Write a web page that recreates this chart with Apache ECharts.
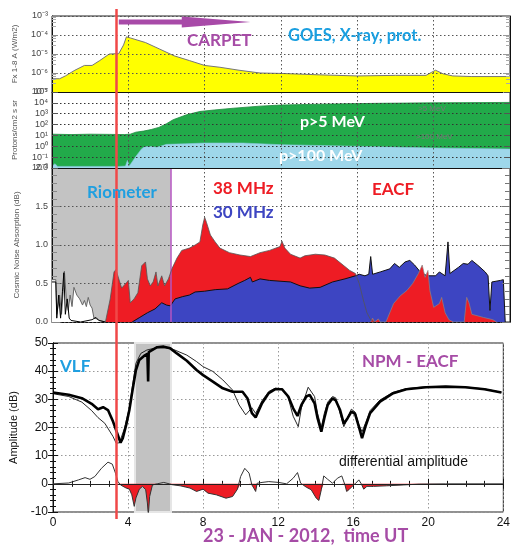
<!DOCTYPE html>
<html><head><meta charset="utf-8">
<script src="https://cdn.jsdelivr.net/npm/echarts@6/dist/echarts.min.js"></script>
<style>html,body{margin:0;padding:0;background:#fff}#c{width:513px;height:545px}</style>
</head><body><div id="c"></div>
<script>
// ---------------- DATA (time in hours UT, 23 Jan 2012) ----------------
const hourTicks = [0, 4, 8, 12, 16, 20, 24];
// GOES X-ray flux 1-8 A (W/m2)
const xrayFlux = [[0,5e-7],[0.4,5e-7],[0.7,7e-7],[1.2,1.4e-6],[1.7,2.5e-6],[2.1,2.5e-6],[2.5,4.5e-6],[3.0,1e-5],[3.5,1.05e-5],[3.6,1.1e-5],[3.75,3e-5],[3.9,8e-5],[4.1,7e-5],[4.9,4e-5],[5.65,1.8e-5],[6.4,8e-6],[7.2,4.5e-6],[8.0,2.5e-6],[8.8,2e-6],[9.8,1.4e-6],[10.9,1e-6],[12,9.5e-7],[14,8e-7],[16,7e-7],[18,7.5e-7],[19.6,7.5e-7],[19.9,1.1e-6],[20.1,1.4e-6],[20.5,9e-7],[21,7e-7],[22,6.5e-7],[24,6.5e-7]];
// GOES protons (/cm2 s sr)
const protonGt5 = [[0,13],[1,12],[2,13],[3,12.5],[3.8,12],[4.1,13],[4.4,20],[4.8,25],[5.2,35],[5.6,55],[6.0,120],[6.35,280],[7.05,800],[7.75,1600],[8.5,2200],[9.5,3200],[10.9,5000],[12,6300],[14,7500],[17,9000],[20,10000],[24,11000]];
const protonGt100 = [[0,0.014],[0.15,0.025],[0.3,0.014],[2,0.014],[3.5,0.014],[3.85,0.015],[3.95,0.05],[4.05,0.015],[4.15,0.015],[4.4,0.12],[4.7,0.6],[4.85,0.9],[5.2,0.95],[5.5,0.8],[6.0,1.5],[6.5,1.6],[7,1.7],[8,2.0],[10,2.0],[12,1.4],[16,1.0],[20,0.7],[24,0.55]];
// Riometer cosmic noise absorption (dB)
const rioQuietFill = [[0,0.55],[0.2,0.55],[0.25,0.1],[0.4,0.35],[0.5,0.1],[0.6,0.45],[0.65,0.66],[0.75,0.3],[0.85,0.15],[0.95,0.35],[1.05,0.2],[1.15,0.45],[1.3,0.35],[1.45,0.3],[1.6,0.22],[1.7,0.28],[1.8,0.2],[1.9,0.32],[2.0,0.22],[2.1,0.18],[2.2,0.05],[2.35,0.04],[2.5,0.02],[2.8,0]];
const rioQuietLine = [[0,0.52],[0.2,0.52],[0.25,0.05],[0.35,0.35],[0.45,0.05],[0.55,0.4],[0.62,0.64],[0.7,0.1],[0.8,0.3],[0.9,0.05],[1.0,0.02],[1.5,0.0],[2.1,0.03],[2.3,0.06],[2.45,0.02],[2.8,0]];
const rio38 = [[2.8,0],[2.9,0],[3.05,0.3],[3.25,0.65],[3.35,0.68],[3.5,0.56],[3.65,0.44],[3.9,0.51],[4.0,0.54],[4.1,0.25],[4.3,0.3],[4.5,0.38],[4.7,0.73],[4.9,0.78],[5.0,0.56],[5.15,0.47],[5.3,0.52],[5.45,0.65],[5.55,0.47],[5.75,0.6],[5.9,0.47],[6.1,0.56],[6.3,0.70],[6.55,0.83],[6.8,0.93],[7.2,0.96],[7.5,1.0],[7.75,1.04],[7.9,1.26],[8.0,1.36],[8.1,1.29],[8.3,1.13],[8.55,1.04],[8.8,0.96],[9.3,0.9],[9.85,0.87],[10.4,0.85],[10.9,0.9],[11.4,0.93],[11.95,0.98],[12.05,1.05],[12.2,0.96],[12.5,0.88],[13,0.83],[13.25,0.86],[13.8,0.88],[14.3,0.87],[14.8,0.83],[15.25,0.74],[15.6,0.67],[15.9,0.63],[16.1,0.5],[16.3,0.3],[16.5,0.12],[16.7,0.03],[16.9,0.0]];
const rio38Late = [[16.7,0],[16.8,0.05],[16.9,0],[17.1,0.04],[17.2,0],[17.5,0],[17.6,0.02],[17.9,0.24],[18.25,0.34],[18.6,0.41],[18.9,0.5],[19.2,0.63],[19.4,0.74],[19.55,0.58],[19.7,0.67],[19.8,0.41],[20.0,0.19],[20.3,0.24],[20.42,0.32],[20.6,0.12],[20.8,0.03],[21.03,0],[21.6,0],[21.73,0.32],[21.85,0.25],[22.0,0.1],[22.6,0.06],[23.1,0.03],[23.3,0]];
const rio30 = [[4.2,0],[4.25,0.01],[4.6,0.06],[5.0,0.12],[5.4,0.17],[5.75,0.25],[6.0,0.22],[6.2,0.21],[6.45,0.3],[6.85,0.33],[7.2,0.35],[7.5,0.39],[8,0.4],[8.55,0.42],[9.2,0.43],[9.75,0.5],[10.1,0.54],[10.4,0.58],[10.5,0.52],[10.9,0.56],[11.4,0.54],[11.95,0.53],[12.5,0.52],[13,0.47],[13.5,0.44],[14.05,0.45],[14.7,0.52],[15.35,0.56],[15.9,0.6],[16.1,0.62],[16.4,0.6],[16.6,0.62],[16.7,0.85],[16.8,0.62],[17.2,0.65],[17.7,0.69],[17.95,0.76],[18.2,0.71],[18.5,0.78],[18.75,0.8],[19,0.74],[19.3,0.65],[19.65,0.6],[20.1,0.6],[20.3,0.65],[20.6,0.6],[20.75,1.04],[20.85,0.63],[21.3,0.71],[21.55,0.76],[21.8,0.75],[22,0.8],[22.3,0.74],[22.7,0.65],[22.85,0.6],[22.95,0.15],[23.05,0.52],[23.5,0.54],[23.65,0.55],[23.75,0.0]];
// VLF NPM - EACF amplitude (dB)
const vlfNPM = [[0,32.4],[0.84,31.6],[1.54,30.4],[2.06,28.4],[2.4,26.5],[2.67,27.2],[2.93,26.2],[3.2,22.1],[3.42,18.0],[3.6,14.6],[3.72,16.2],[3.9,20.9],[4.07,26.2],[4.24,33.3],[4.42,40.4],[4.6,44.0],[4.85,45.4],[5.03,46.1],[5.07,36.3],[5.1,46.8],[5.2,47.5],[5.55,48.5],[5.9,48.7],[6.25,48.1],[6.6,46.3],[7.13,43.7],[7.65,40.4],[8.0,38.6],[8.52,36.3],[9.05,33.9],[9.57,32.7],[10.1,32.7],[10.36,30.4],[10.6,25.1],[10.8,23.6],[11.14,28.6],[11.5,32.2],[11.85,33.6],[12.2,33.6],[12.54,31.0],[12.8,26.8],[13.03,24.1],[13.24,28.0],[13.5,31.0],[13.68,31.6],[13.94,28.6],[14.1,23.3],[14.3,18.5],[14.46,23.3],[14.64,28.0],[14.9,30.4],[15.07,29.6],[15.3,26.2],[15.5,21.3],[15.7,23.3],[15.9,25.6],[16.1,24.8],[16.3,20.3],[16.47,16.2],[16.65,20.3],[16.9,25.1],[17.43,29.2],[18.13,32.2],[18.83,33.6],[19.88,34.3],[20.93,34.5],[21.97,34.3],[23.0,33.6],[23.9,32.4]];
const vlfQuiet = [[0,32.0],[0.84,31.0],[1.54,29.0],[2.06,26.0],[2.4,23.5],[2.76,21.5],[3.2,16.8],[3.37,14.4],[3.54,14.6],[3.8,19.5],[4.07,27],[4.24,35],[4.42,42.8],[4.68,46.3],[5.0,47.5],[5.5,48.3],[6.0,48.3],[6.42,47.7],[7.13,45.7],[7.65,43.4],[8.0,41.6],[8.52,39.9],[9.05,36.9],[9.57,33.3],[9.92,28.0],[10.27,24.5],[10.6,27],[10.8,25],[11.14,29.5],[11.5,32.8],[11.85,34],[12.2,33.8],[12.54,30.5],[12.8,24],[13.07,20.3],[13.24,27],[13.6,34.3],[13.94,31],[14.1,25],[14.3,20],[14.46,25],[14.64,29],[14.9,31],[15.07,30.5],[15.3,25],[15.5,20.3],[15.7,23.5],[15.9,26.5],[16.1,25.5],[16.3,21],[16.47,18.5],[16.65,21.5],[16.9,26],[17.43,29.8],[18.13,32.5],[18.83,33.8],[19.88,34.5],[20.93,34.6],[21.97,34.4],[23.0,33.7],[23.9,32.5]];
const vlfDiff = [[0,0],[0.84,0.3],[1.36,1.4],[1.71,2.2],[1.97,1.6],[2.23,2.6],[2.58,5.5],[2.93,7.7],[3.16,7.0],[3.33,3.8],[3.46,0.8],[3.6,-0.4],[3.9,-1.5],[4.07,-1.9],[4.2,-3.9],[4.33,-8.0],[4.42,-5],[4.6,-1.9],[4.77,-0.9],[4.94,-2.1],[5.03,-6.8],[5.08,-11],[5.15,-4.5],[5.3,-0.4],[5.55,0],[5.9,0.5],[6.2,0],[6.34,-0.3],[6.78,-0.7],[7.3,-1.5],[7.65,-2.7],[8.0,-1.9],[8.26,-3.3],[8.7,-3.9],[9.22,-5.1],[9.57,-4.5],[9.83,-1.9],[10.0,2.6],[10.22,5.5],[10.45,3.8],[10.6,-0.4],[10.7,-1.5],[10.8,-2.7],[10.88,0.2],[11.14,0.5],[11.5,0.8],[12.02,0.5],[12.45,0],[12.8,2.0],[13.03,4.0],[13.2,0.2],[13.33,-0.4],[13.5,-1.2],[13.76,-2.1],[14.03,-5.1],[14.17,-5.9],[14.3,-2.1],[14.43,2.8],[14.64,1.6],[14.9,0.2],[15.16,2.0],[15.39,2.8],[15.56,-0.4],[15.65,-2.7],[15.77,-2.1],[15.95,-0.9],[16.1,0],[16.3,1.4],[16.43,0],[16.56,-1.9],[16.73,-0.9],[17.08,-0.9],[17.78,-0.7],[18.66,-0.4],[19.53,-0.1],[20.93,0],[24,0]];
// annotations (hours)
const eventHour = 3.38;          // red vertical line
const carpetArrow = [3.5, 6.8, 10.4]; // start, head base, tip
const rioShadeEnd = 6.22;        // grey riometer shading / purple line
const vlfBand = [4.37, 6.29];    // grey band on VLF panel

// ---------------- CHART ----------------
const LF = '"Liberation Sans", Arial, sans-serif';
const TF = 'Lato, "Open Sans", sans-serif';
const SUP = {'-':'⁻','0':'⁰','1':'¹','2':'²','3':'³','4':'⁴','5':'⁵','6':'⁶','7':'⁷','8':'⁸','9':'⁹'};
const supFmt = v => '10' + String(Math.round(Math.log10(v))).split('').map(c => SUP[c]).join('');
const negPart = vlfDiff.map(([t, v]) => [t, Math.min(v, 0)]);

const grids = [
  {left:52, top:16, width:458, height:76},
  {left:52, top:92, width:458, height:76},
  {left:52, top:168, width:458, height:154},
  {left:51, top:343, width:458, height:169}
].map(g => Object.assign(g, {show:true, borderColor:'#222', borderWidth:1, backgroundColor:'transparent'}));

const dotted = c => ({show:true, lineStyle:{type:[1.5,2.5], color:c, width:1}});
const xAxes = grids.map((g, i) => ({
  type:'value', gridIndex:i, min:0, max:24, interval:4,
  z: i === 1 || i === 0 ? 6 : 0,
  axisLine:{show:true, lineStyle:{color:'#111'}},
  axisTick:{show:i === 3, inside:true, length:5, lineStyle:{color:'#111'}},
  minorTick:{show:i === 3, splitNumber:4, length:3, lineStyle:{color:'#111'}},
  axisLabel:{show:i === 3, fontFamily:LF, fontSize:12, color:'#111', margin:5},
  splitLine: i === 3 ? dotted('#999') : dotted('#555')
}));
// top frame axis with hourly ticks on the VLF panel
xAxes.push({type:'value', gridIndex:3, position:'top', min:0, max:24, interval:4,
  axisLine:{show:true, lineStyle:{color:'#111'}}, axisLabel:{show:false}, splitLine:{show:false},
  axisTick:{show:true, inside:true, length:5, lineStyle:{color:'#111'}},
  minorTick:{show:true, splitNumber:4, length:3, lineStyle:{color:'#111'}}});

const yLab = {fontFamily:LF, fontSize:9, color:'#444', margin:4};
const yAxes = [
  {type:'log', logBase:10, gridIndex:0, min:1e-7, max:1e-3, z:6,
   axisLabel:Object.assign({formatter:supFmt}, yLab),
   axisTick:{show:true, inside:true, length:6, lineStyle:{color:'#888'}},
   minorTick:{show:true, length:4, lineStyle:{color:'#aaa'}},
   splitLine:dotted('#555'), axisLine:{show:true, lineStyle:{color:'#111'}},
   name:'Fx 1-8 A (W/m2)', nameLocation:'middle', nameGap:33, nameTextStyle:{fontFamily:LF, fontSize:8, color:'#555'}},
  {type:'log', logBase:10, gridIndex:1, min:1e-2, max:1e5, z:6,
   axisLabel:Object.assign({formatter:supFmt}, yLab),
   axisTick:{show:true, inside:true, length:6, lineStyle:{color:'#555'}},
   splitLine:dotted('#333'), axisLine:{show:true, lineStyle:{color:'#111'}},
   name:'Protons/cm2 s sr', nameLocation:'middle', nameGap:33, nameTextStyle:{fontFamily:LF, fontSize:8, color:'#555'}},
  {type:'value', gridIndex:2, min:0, max:2, interval:0.5, z:2,
   axisLabel:Object.assign({formatter:v => v.toFixed(1)}, yLab),
   axisTick:{show:true, inside:true, length:8, lineStyle:{color:'#888'}},
   minorTick:{show:true, splitNumber:5, length:5, lineStyle:{color:'#888'}},
   splitLine:dotted('#555'), axisLine:{show:true, lineStyle:{color:'#111'}},
   name:'Cosmic Noise Absorption (dB)', nameLocation:'middle', nameGap:31, nameTextStyle:{fontFamily:LF, fontSize:8, color:'#555'}},
  {type:'value', gridIndex:3, min:-10, max:50, interval:10,
   axisLabel:{fontFamily:LF, fontSize:12, color:'#111', margin:5},
   axisTick:{show:true, inside:true, length:5, lineStyle:{color:'#111'}},
   minorTick:{show:true, splitNumber:5, length:3, lineStyle:{color:'#111'}},
   splitLine:dotted('#999'), axisLine:{show:true, lineStyle:{color:'#111'}},
   name:'Amplitude (dB)', nameLocation:'middle', nameGap:34, nameTextStyle:{fontFamily:LF, fontSize:11, color:'#111'}},
  // right-hand frame axes (ticks only)
  {type:'log', logBase:10, gridIndex:0, position:'right', min:1e-7, max:1e-3, z:6,
   axisLabel:{show:false}, splitLine:{show:false}, axisLine:{show:true, lineStyle:{color:'#111'}},
   axisTick:{show:true, inside:true, length:7, lineStyle:{color:'#999'}}, minorTick:{show:true, length:4, lineStyle:{color:'#aaa'}}},
  {type:'log', logBase:10, gridIndex:1, position:'right', min:1e-2, max:1e5, z:6,
   axisLabel:{show:false}, splitLine:{show:false}, axisLine:{show:true, lineStyle:{color:'#111'}},
   axisTick:{show:true, inside:true, length:6, lineStyle:{color:'#555'}}},
  {type:'value', gridIndex:2, position:'right', min:0, max:2, interval:0.5, z:6,
   axisLabel:{show:false}, splitLine:{show:false}, axisLine:{show:true, lineStyle:{color:'#111'}},
   axisTick:{show:true, inside:true, length:8, lineStyle:{color:'#777'}}, minorTick:{show:true, splitNumber:5, length:5, lineStyle:{color:'#777'}}},
  {type:'value', gridIndex:3, position:'right', min:-10, max:50, interval:10,
   axisLabel:{show:false}, splitLine:{show:false}, axisLine:{show:true, lineStyle:{color:'#111'}},
   axisTick:{show:true, inside:true, length:5, lineStyle:{color:'#111'}}, minorTick:{show:true, splitNumber:5, length:3, lineStyle:{color:'#111'}}}
];

const L = (x, y, data, extra) => Object.assign({type:'line', xAxisIndex:x, yAxisIndex:y, data, symbol:'none', showSymbol:false, silent:true, animation:false}, extra);
const RED = '#ee1c24', BLUE = '#3d45c2';

const series = [
  L(0,0,xrayFlux,{z:3, lineStyle:{color:'#777', width:1}, areaStyle:{color:'#ffff00', opacity:1, origin:'start'}}),
  L(1,1,protonGt5,{z:3, lineStyle:{color:'#1c8a3c', width:0.8}, areaStyle:{color:'#22aa4a', opacity:1, origin:'start'}}),
  L(1,1,protonGt100,{z:4, lineStyle:{color:'#88c8dc', width:0.6}, areaStyle:{color:'#9ed7ea', opacity:1, origin:'start'}}),
  // riometer panel
  L(2,2,[[0,0]],{z:1, lineStyle:{opacity:0}, markArea:{silent:true, itemStyle:{color:'#c3c3c3'}, data:[[{xAxis:0},{xAxis:rioShadeEnd}]]}}),
  L(2,2,rioQuietFill,{z:3, lineStyle:{color:'#666', width:1}, areaStyle:{color:'#fff', opacity:1}}),
  L(2,2,rioQuietLine,{z:4, lineStyle:{color:'#000', width:1}}),
  L(2,2,rio38,{z:3, lineStyle:{width:0}, areaStyle:{color:RED, opacity:1}}),
  L(2,2,rio30,{z:4, lineStyle:{color:'#111', width:1}, areaStyle:{color:BLUE, opacity:1}}),
  L(2,2,rio38Late,{z:5, lineStyle:{color:'#888', width:0.7}, areaStyle:{color:RED, opacity:1}}),
  L(2,2,rio38,{z:6, lineStyle:{color:'#555', width:0.8},
    markLine:{silent:true, symbol:'none', label:{show:false}, lineStyle:{color:'#b455c0', width:1.5, type:'solid'}, data:[{xAxis:rioShadeEnd}]}}),
  // VLF panel
  L(3,3,negPart,{z:2, lineStyle:{width:0}, areaStyle:{color:RED, opacity:1}}),
  L(3,3,[[0,0]],{z:3, lineStyle:{opacity:0}, markArea:{silent:true, itemStyle:{color:'#c2c2c2', borderColor:'#e6e6e6', borderWidth:2}, data:[[{xAxis:vlfBand[0]},{xAxis:vlfBand[1]}]]}}),
  L(3,3,vlfDiff,{z:4, lineStyle:{color:'#333', width:1},
    markLine:{silent:true, symbol:'none', label:{show:false}, lineStyle:{color:'#222', width:1, type:'solid'}, data:[{yAxis:0}]}}),
  L(3,3,vlfQuiet,{z:4, lineStyle:{color:'#111', width:0.9}}),
  L(3,3,vlfNPM,{z:5, lineStyle:{color:'#000', width:2.6}})
];

const txt = (left, top, text, size, color, weight, font) => ({type:'text', left, top, z:100, silent:true,
  style:{text, fontSize:size, fontWeight:weight || 'bold', fill:color, fontFamily:font || TF}});

const chart = echarts.init(document.getElementById('c'), null, {renderer:'canvas'});
chart.setOption({animation:false, backgroundColor:'#fff', grid:grids, xAxis:xAxes, yAxis:yAxes, series});

const px = h => chart.convertToPixel({xAxisIndex:0}, h);
const xr = px(eventHour), a0 = px(carpetArrow[0]), a1 = px(carpetArrow[1]), a2 = px(carpetArrow[2]);
const ay = 22;
chart.setOption({graphic:[
  {type:'polygon', z:90, silent:true, shape:{points:[[a0,ay-2.5],[a1,ay-2.5],[a1,ay-5.5],[a2,ay],[a1,ay+5.5],[a1,ay+2.5],[a0,ay+2.5]]}, style:{fill:'#a84aa8'}},
  {type:'line', z:95, silent:true, shape:{x1:xr, y1:9, x2:xr, y2:519}, style:{stroke:'#f04848', lineWidth:2.5}},
  txt(187, 32, 'CARPET', 17, '#a64ca6'),
  txt(288, 27, 'GOES, X-ray, prot.', 16.5, '#1a9fe0'),
  txt(300, 114, 'p>5 MeV', 16, '#ffffff'),
  txt(279, 148, 'p>100 MeV', 16, '#ffffff'),
  txt(418, 105, '>5 MeV', 8, '#777', 'normal', LF),
  txt(416, 133, '>100 MeV', 8, '#777', 'normal', LF),
  txt(87, 184, 'Riometer', 17, '#1f9fe0'),
  txt(213, 180, '38 MHz', 17, RED),
  txt(213, 204, '30 MHz', 17, BLUE),
  txt(372, 181, 'EACF', 17, RED),
  txt(60, 358, 'VLF', 17, '#1f9fe0'),
  txt(362, 353, 'NPM - EACF', 17, '#a64ca6'),
  txt(339, 455, 'differential amplitude', 14, '#111', 'normal', LF),
  txt(203, 527, '23 - JAN - 2012,  time UT', 18, '#a64ca6')
]});
</script></body></html>
